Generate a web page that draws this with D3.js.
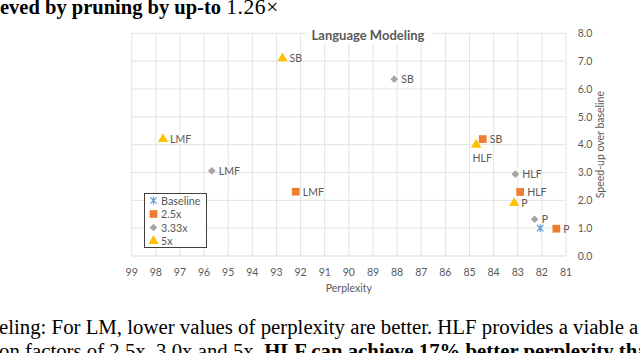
<!DOCTYPE html>
<html>
<head>
<meta charset="utf-8">
<script src="https://cdn.jsdelivr.net/npm/d3@7"></script>
<style>
  body { margin: 0; background: #fff; }
  svg { display: block; }
</style>
</head>
<body>
<div id="chart"></div>
<script>
// --- data ---
const seriesNames = ['Baseline', '2.5x', '3.33x', '5x'];
const baseline = [{ x: 82.07, y: 1.0, label: '' }];
const comp25 = [
  { x: 84.45, y: 4.2, label: 'SB' },
  { x: 92.2, y: 2.31, label: 'LMF' },
  { x: 82.9, y: 2.3, label: 'HLF' },
  { x: 81.4, y: 0.98, label: 'P' }
];
const comp333 = [
  { x: 88.12, y: 6.35, label: 'SB' },
  { x: 95.68, y: 3.06, label: 'LMF' },
  { x: 83.1, y: 2.94, label: 'HLF' },
  { x: 82.3, y: 1.32, label: 'P' }
];
const comp5 = [
  { x: 92.75, y: 7.1, label: 'SB' },
  { x: 97.7, y: 4.2, label: 'LMF' },
  { x: 84.72, y: 4.0, label: 'HLF' },
  { x: 83.15, y: 1.9, label: 'P' }
];
const xTicks = d3.range(81, 100);
const yTicks = [0, 1, 2, 3, 4, 5, 6, 7, 8];

// --- setup ---
const W = 640, H = 353;
const plot = { left: 131.7, right: 566, top: 33.3, bottom: 256 };
const gray = '#595959';
const font = 'Lato, "Open Sans", sans-serif';

const svg = d3.select('#chart').append('svg')
  .attr('width', W).attr('height', H);

const x = d3.scaleLinear().domain([99, 81]).range([plot.left, plot.right]);
const y = d3.scaleLinear().domain([0, 8]).range([plot.bottom, plot.top]);

// gridlines
const grid = svg.append('g');
grid.selectAll('line.v').data(xTicks).enter().append('line')
  .attr('x1', d => x(d)).attr('x2', d => x(d))
  .attr('y1', plot.top).attr('y2', plot.bottom)
  .attr('stroke', '#e3e3e3').attr('stroke-width', 1);
grid.selectAll('line.h').data(yTicks).enter().append('line')
  .attr('x1', plot.left).attr('x2', plot.right)
  .attr('y1', d => y(d)).attr('y2', d => y(d))
  .attr('stroke', d => d === 0 ? '#d9d9d9' : '#e3e3e3').attr('stroke-width', 1);

// x axis labels
svg.append('g').selectAll('text').data(xTicks).enter().append('text')
  .attr('x', d => x(d)).attr('y', 276)
  .attr('text-anchor', 'middle')
  .attr('font-family', font).attr('font-size', 10.5).attr('fill', gray)
  .text(d => d);

// y axis labels (right side)
svg.append('g').selectAll('text').data(yTicks).enter().append('text')
  .attr('x', 585).attr('y', d => y(d) + 3.8)
  .attr('text-anchor', 'middle')
  .attr('font-family', font).attr('font-size', 10.5).attr('fill', gray)
  .text(d => d3.format('.1f')(d));

// axis titles
svg.append('text')
  .attr('x', (plot.left + plot.right) / 2).attr('y', 292)
  .attr('text-anchor', 'middle')
  .attr('font-family', font).attr('font-size', 10.5).attr('fill', gray)
  .text('Perplexity');

svg.append('text')
  .attr('transform', `translate(604,${(plot.top + plot.bottom) / 2}) rotate(-90)`)
  .attr('text-anchor', 'middle')
  .attr('font-family', font).attr('font-size', 10.5).attr('fill', gray)
  .text('Speed-up over baseline');

// chart title with white background
const title = svg.append('g');
title.append('rect')
  .attr('x', 306).attr('y', 27).attr('width', 126).attr('height', 16).attr('fill', '#fff');
title.append('text')
  .attr('x', 368).attr('y', 40)
  .attr('text-anchor', 'middle')
  .attr('font-family', font).attr('font-size', 13).attr('font-weight', 'bold').attr('fill', gray)
  .text('Language Modeling');

// --- markers ---
const colors = { 'Baseline': '#5b9bd5', '2.5x': '#ed7d31', '3.33x': '#a5a5a5', '5x': '#ffc000' };
// excel-style asterisk: an x with a vertical bar
const asterisk = () => 'M-3.2,-3.2L3.2,3.2M-3.2,3.2L3.2,-3.2M0,-4L0,4';
const symbols = {
  'Baseline': asterisk,
  '2.5x': d3.symbol().type(d3.symbolSquare).size(60),
  '3.33x': d3.symbol().type(d3.symbolDiamond2).size(38),
  '5x': d3.symbol().type(d3.symbolTriangle).size(46)
};

function drawSeries(data, name) {
  const g = svg.append('g');
  g.selectAll('path').data(data).enter().append('path')
    .attr('transform', d => `translate(${x(d.x)},${y(d.y)})`)
    .attr('d', symbols[name]())
    .attr('fill', name === 'Baseline' ? 'none' : colors[name])
    .attr('stroke', name === 'Baseline' ? colors[name] : 'none')
    .attr('stroke-width', 1.2);
  g.selectAll('text').data(data.filter(d => d.label)).enter().append('text')
    .attr('x', d => (name === '5x' && d.label === 'HLF') ? x(d.x) + 6 : x(d.x) + 7)
    .attr('y', d => (name === '5x' && d.label === 'HLF') ? y(d.y) + 17 : y(d.y) + 4)
    .attr('text-anchor', d => (name === '5x' && d.label === 'HLF') ? 'middle' : 'start')
    .attr('font-family', font).attr('font-size', 10.5).attr('fill', gray)
    .text(d => d.label);
}
drawSeries(comp333, '3.33x');
drawSeries(comp25, '2.5x');
drawSeries(comp5, '5x');
drawSeries(baseline, 'Baseline');

// --- legend ---
const leg = svg.append('g').attr('transform', 'translate(144.5,193.5)');
leg.append('rect').attr('width', 62).attr('height', 54)
  .attr('fill', '#fff').attr('stroke', '#404040').attr('stroke-width', 1);
seriesNames.forEach((name, i) => {
  const ly = 7 + i * 13.5;
  leg.append('path')
    .attr('transform', `translate(9,${ly})`)
    .attr('d', symbols[name]())
    .attr('fill', name === 'Baseline' ? 'none' : colors[name])
    .attr('stroke', name === 'Baseline' ? colors[name] : 'none')
    .attr('stroke-width', 1.2);
  leg.append('text')
    .attr('x', 16.5).attr('y', ly + 4)
    .attr('font-family', font).attr('font-size', 10.8).attr('fill', gray)
    .text(name);
});

// --- surrounding paper text ---
const serif = '"Liberation Serif", "Times New Roman", serif';
const headText = svg.append('text')
  .attr('x', 0).attr('y', 13.5)
  .attr('font-family', serif)
  .attr('font-size', 20.5).attr('fill', '#000');
headText.append('tspan').attr('font-weight', 'bold').text('eved by pruning by up-to ');
headText.append('tspan').attr('font-size', 21.5).attr('letter-spacing', 0.6).text('1.26×');

svg.append('text')
  .attr('x', -1).attr('y', 334)
  .attr('font-family', serif)
  .attr('font-size', 20.8).attr('fill', '#000')
  .text('eling: For LM, lower values of perplexity are better. HLF provides a viable a');
const cap2 = svg.append('text')
  .attr('x', -1).attr('y', 358)
  .attr('font-family', serif)
  .attr('font-size', 20.8).attr('fill', '#000');
cap2.append('tspan').text('on factors of 2.5x, 3.0x and 5x. ');
cap2.append('tspan').attr('font-weight', 'bold').text('HLF can achieve 17% better perplexity than');
</script>
</body>
</html>
